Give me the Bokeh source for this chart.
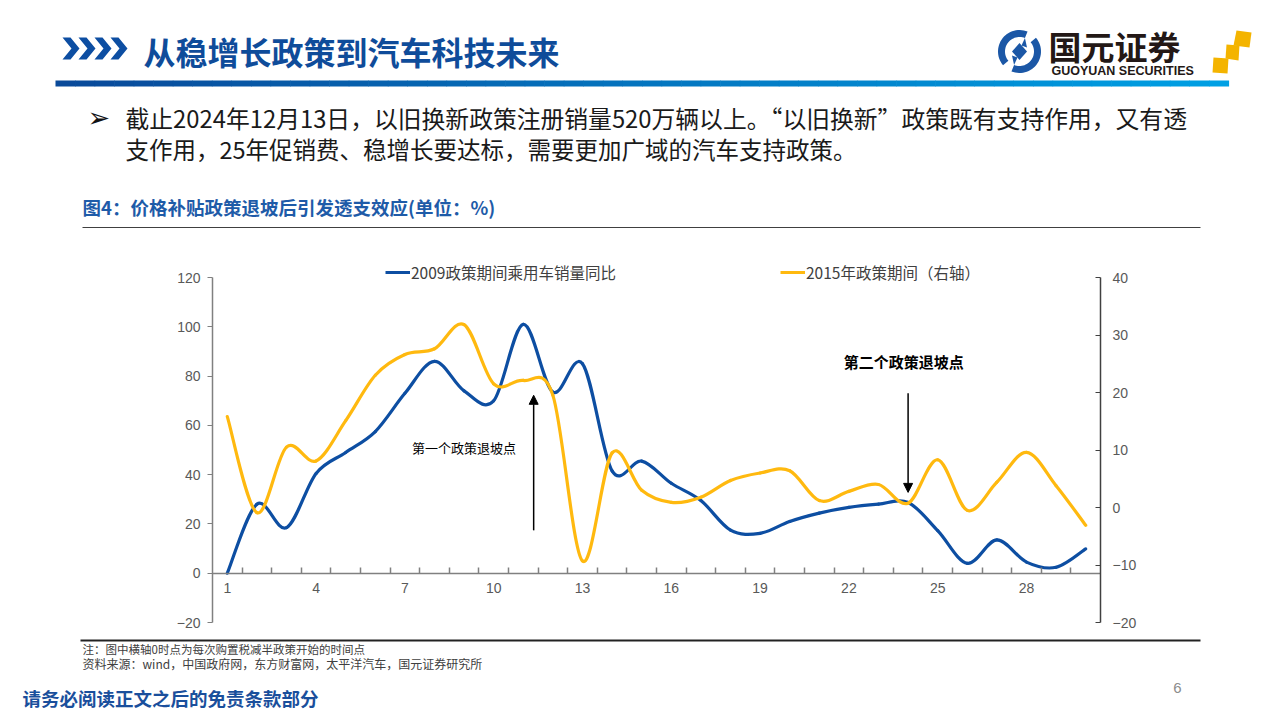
import numpy as np
from bokeh.plotting import figure
from bokeh.models import (Range1d, LinearAxis, FixedTicker, Label, Arrow, NormalHead,
                          Legend, LegendItem, ColumnDataSource)
from bokeh.core.properties import value
from bokeh.embed import file_html
from bokeh.resources import INLINE

# ---------------- data ----------------
CATS = list(range(1, 31))
BLUE_2009 = [0, 28, 18.5, 40.5, 49, 57.5, 73, 86, 74, 70,
             101, 73.5, 85, 41.5, 45.5, 36.5, 29.5, 17.5, 16.2, 21,
             24.4, 26.7, 28, 28.7, 17.3, 4, 13.5, 4.5, 2.4, 9.9]
YELLOW_2015 = [15.8, -0.9, 10.5, 8.1, 15.1, 23, 26.6, 27.6, 31.8, 21.5,
               22.1, 19.5, -9.3, 9.5, 3.0, 0.9, 1.8, 4.7, 6.0, 6.4,
               1.2, 2.8, 4.0, 0.75, 8.3, -0.5, 4.4, 9.6, 3.8, -3.1]
SERIES_NAMES = ["2009政策期间乘用车销量同比", "2015年政策期间（右轴）"]
X_TICK_POS = [1, 4, 7, 10, 13, 16, 19, 22, 25, 28]
X_TICK_LABELS = ["1", "4", "7", "10", "13", "16", "19", "22", "25", "28"]
LEFT_TICKS = [-20, 0, 20, 40, 60, 80, 100, 120]
RIGHT_TICKS = [-20, -10, 0, 10, 20, 30, 40]

TITLE = "从稳增长政策到汽车科技未来"
PARA1 = "截止2024年12月13日，以旧换新政策注册销量520万辆以上。“以旧换新”政策既有支持作用，又有透"
PARA2 = "支作用，25年促销费、稳增长要达标，需要更加广域的汽车支持政策。"
FIG_TITLE = "图4：价格补贴政策退坡后引发透支效应(单位：%)"
NOTE1 = "注：图中横轴0时点为每次购置税减半政策开始的时间点"
NOTE2 = "资料来源：wind，中国政府网，东方财富网，太平洋汽车，国元证券研究所"
DISCLAIMER = "请务必阅读正文之后的免责条款部分"
ANNOT1 = "第一个政策退坡点"
ANNOT2 = "第二个政策退坡点"

# ---------------- styles / geometry ----------------
C_BLUE = "#0D4EA2"
C_YEL = "#FFB90F"
CJK = "Noto Sans CJK SC"
NUM = "Liberation Sans"

W, H = 1280, 720
FL, FR = 212, 1100      # page x of category edges 0.5 and 30.5
FT, FB = 277, 622       # page y of left 120 / right 40, and of -20
L_MIN, L_MAX = -20, 120
R_MIN, R_MAX = -20, 40
X_MIN, X_MAX = 0.5, len(CATS) + 0.5

sxp = (FR - FL) / (X_MAX - X_MIN)
lpp = (FB - FT) / (L_MAX - L_MIN)
rpp = (FB - FT) / (R_MAX - R_MIN)

p = figure(width=W, height=H, output_backend="svg", toolbar_location=None, title=None,
           x_range=Range1d(X_MIN - FL / sxp, X_MAX + (W - FR) / sxp),
           y_range=Range1d(L_MIN - (H - FB) / lpp, L_MAX + FT / lpp),
           min_border=0)
p.extra_x_ranges = {"px": Range1d(0, W)}
p.extra_y_ranges = {"right": Range1d(R_MIN - (H - FB) / rpp, R_MAX + FT / rpp),
                    "py": Range1d(H, 0)}
p.outline_line_color = None
p.grid.visible = False
p.background_fill_color = "white"
p.border_fill_color = "white"

# x axis sitting on y = 0
xa = p.xaxis[0]
xa.fixed_location = 0
xa.bounds = (X_MIN, X_MAX)
xa.ticker = FixedTicker(ticks=X_TICK_POS, minor_ticks=[c + 0.5 for c in CATS[:-1]])
xa.major_label_overrides = {t: s for t, s in zip(X_TICK_POS, X_TICK_LABELS)}
xa.axis_line_color = "#808080"
xa.axis_line_width = 1.5
xa.major_tick_in = 0
xa.major_tick_out = 0
xa.minor_tick_line_color = "#808080"
xa.minor_tick_line_width = 1.5
xa.minor_tick_in = 6
xa.minor_tick_out = 0
xa.major_label_standoff = 10
xa.major_label_text_font = NUM
xa.major_label_text_font_size = "14px"
xa.major_label_text_color = "#595959"

# left axis
ya = p.yaxis[0]
ya.fixed_location = X_MIN
ya.bounds = (L_MIN, L_MAX)
ya.ticker = FixedTicker(ticks=LEFT_TICKS, minor_ticks=[])
ya.axis_line_color = "#808080"
ya.axis_line_width = 1.5
ya.major_tick_line_color = "#808080"
ya.major_tick_in = 0
ya.major_tick_out = 5
ya.minor_tick_line_color = None
ya.major_label_standoff = 7
ya.major_label_text_font = NUM
ya.major_label_text_font_size = "14px"
ya.major_label_text_color = "#595959"

# right axis
ra = LinearAxis(y_range_name="right", fixed_location=X_MAX,
                ticker=FixedTicker(ticks=RIGHT_TICKS, minor_ticks=[]))
ra.bounds = (R_MIN, R_MAX)
ra.axis_line_color = "#404040"
ra.axis_line_width = 1.5
ra.major_tick_line_color = "#404040"
ra.major_tick_in = 5
ra.major_tick_out = 0
ra.minor_tick_line_color = None
ra.major_label_standoff = 12
ra.major_label_text_font = NUM
ra.major_label_text_font_size = "14px"
ra.major_label_text_color = "#595959"
p.add_layout(ra, "right")


# smoothed series (cubic bezier segments through the data points)
def bezier_source(xs, ys):
    x = np.asarray(xs, float)
    y = np.asarray(ys, float)
    n = len(x)
    xp = np.concatenate([[x[0]], x, [x[-1]]])
    yp = np.concatenate([[y[0]], y, [y[-1]]])
    return ColumnDataSource(dict(
        x0=x[:-1], y0=y[:-1], x1=x[1:], y1=y[1:],
        cx0=x[:-1] + (xp[2:n + 1] - xp[0:n - 1]) / 6,
        cy0=y[:-1] + (yp[2:n + 1] - yp[0:n - 1]) / 6,
        cx1=x[1:] - (xp[3:n + 2] - xp[1:n]) / 6,
        cy1=y[1:] - (yp[3:n + 2] - yp[1:n]) / 6))


p.bezier(x0="x0", y0="y0", x1="x1", y1="y1", cx0="cx0", cy0="cy0", cx1="cx1", cy1="cy1",
         source=bezier_source(CATS, BLUE_2009), line_color=C_BLUE, line_width=3.2,
         line_cap="round")
p.bezier(x0="x0", y0="y0", x1="x1", y1="y1", cx0="cx0", cy0="cy0", cx1="cx1", cy1="cy1",
         source=bezier_source(CATS, YELLOW_2015), line_color=C_YEL, line_width=3.2,
         line_cap="round", y_range_name="right")

# legend (keyed to hidden line renderers of the same series)
rb = p.line(x=CATS, y=BLUE_2009, line_color=C_BLUE, line_width=3, visible=False)
ry = p.line(x=CATS, y=YELLOW_2015, line_color=C_YEL, line_width=3, visible=False,
            y_range_name="right")
for r, name, X in [(rb, SERIES_NAMES[0], 385), (ry, SERIES_NAMES[1], 780)]:
    lg = Legend(items=[LegendItem(label=name, renderers=[r])],
                location=(X, H - 273 - 10), orientation="horizontal",
                background_fill_alpha=0, border_line_color=None, padding=0, margin=0,
                spacing=0, label_standoff=1, glyph_width=25, glyph_height=20,
                label_height=20, label_text_font=CJK, label_text_font_size="15.5px",
                label_text_color="#404040", inactive_fill_alpha=0)
    p.add_layout(lg)

# annotations
p.add_layout(Label(x=7.24, y=51.1, text=ANNOT1, text_font=CJK, text_font_size="13px",
                   text_color="black", text_baseline="middle"))
p.add_layout(Label(x=21.83, y=85.9, text=ANNOT2, text_font=CJK, text_font_size="15px",
                   text_font_style="bold", text_color="black", text_baseline="middle"))
p.add_layout(Arrow(end=NormalHead(size=9, fill_color="black", line_color="black"),
                   x_start=11.35, y_start=17.4, x_end=11.35, y_end=72.2,
                   line_color="black", line_width=1.5))
p.add_layout(Arrow(end=NormalHead(size=9, fill_color="black", line_color="black"),
                   x_start=24.0, y_start=73.0, x_end=24.0, y_end=32.8,
                   line_color="black", line_width=1.5))

# ---------------- slide decorations (page-pixel ranges) ----------------
PX = dict(x_range_name="px", y_range_name="py")


def txt(X, Y, s, size, color, font=CJK, bold=False, align="left"):
    p.text(x=[X], y=[Y], text=[s], text_font=value(font), text_font_size=size,
           text_color=color, text_font_style="bold" if bold else "normal",
           text_align=align, text_baseline="middle", **PX)


# header
chev_x, chev_y = [], []
for x0 in [62, 78, 94, 110]:
    chev_x.append([x0, x0 + 8, x0 + 17, x0 + 8, x0, x0 + 9])
    chev_y.append([37, 37, 48, 59, 59, 48])
p.patches(chev_x, chev_y, fill_color=C_BLUE, line_color=None, **PX)
txt(143, 50, TITLE, "32px", "#0F4C9A", bold=True)

c0 = np.array([10, 74, 154])
c1 = np.array([0, 160, 228])
nseg = 60
edges = np.linspace(55, 1228, nseg + 1)
cols = ["#%02x%02x%02x" % tuple(int(v) for v in (c0 + (c1 - c0) * i / (nseg - 1)))
        for i in range(nseg)]
p.quad(left=edges[:-1], right=edges[1:] + 0.6, top=80, bottom=86,
       fill_color=cols, line_color=None, **PX)

# logo
CX, CY = 1019, 51


def ring_seg(a0, a1, r0, r1):
    a = np.radians(np.linspace(a0, a1, 30))
    xs = list(CX + r1 * np.cos(a)) + list(CX + r0 * np.cos(a[::-1]))
    ys = list(CY + r1 * np.sin(a)) + list(CY + r0 * np.sin(a[::-1]))
    return xs, ys


s1 = ring_seg(-40, 112, 14.5, 21.5)
s2 = ring_seg(140, 292, 14.5, 21.5)
p.patches([s1[0], s2[0]], [s1[1], s2[1]], fill_color="#1B57A6", line_color=None, **PX)
p.patches([[CX + 14.5 * np.cos(np.radians(112)), CX - 2, CX - 7.5],
           [CX + 14.5 * np.cos(np.radians(292)), CX + 2, CX + 7.5]],
          [[CY + 14.5 * np.sin(np.radians(112)), CY + 6, CY + 4],
           [CY + 14.5 * np.sin(np.radians(292)), CY - 6, CY - 4]],
          fill_color="#1B57A6", line_color=None, **PX)
p.patches([[CX, CX + 7.5, CX, CX - 7.5]], [[CY - 8.5, CY, CY + 8.5, CY]],
          fill_color="#1B57A6", line_color=None, **PX)
txt(1048, 45, "国元证券", "33px", "#231816", bold=True)
txt(1051, 70, "GUOYUAN SECURITIES", "12.5px", "#231816", font="Liberation Sans", bold=True)
p.patches([[1236, 1251, 1249, 1233], [1226, 1239, 1238, 1225], [1213, 1228, 1227, 1212]],
          [[30, 32, 47, 45], [44, 45, 60, 58], [57, 58, 73, 72]],
          fill_color="#F4B400", line_color=None, **PX)

# paragraph
txt(87, 117, "➢", "27px", "#111111", font="DejaVu Sans")
txt(125, 117, PARA1, "23.8px", "#1A1A1A")
txt(125, 148, PARA2, "23.5px", "#1A1A1A")

# figure title + rule
txt(82, 206, FIG_TITLE, "18.5px", "#1E5BA8", bold=True)
p.segment(x0=[82], y0=[227], x1=[1200], y1=[227], line_color="#404040", line_width=1, **PX)

# footer
p.segment(x0=[80], y0=[640], x1=[1200], y1=[640], line_color="#222222", line_width=2, **PX)
txt(82, 648, NOTE1, "11.5px", "#404040")
txt(82, 663, NOTE2, "12px", "#404040")
txt(22, 697, DISCLAIMER, "18.5px", "#1A4F9C", bold=True)
txt(1177, 687, "6", "15px", "#8C8C8C", font="Liberation Sans", align="center")

open("out.html", "w").write(file_html(p, INLINE))
